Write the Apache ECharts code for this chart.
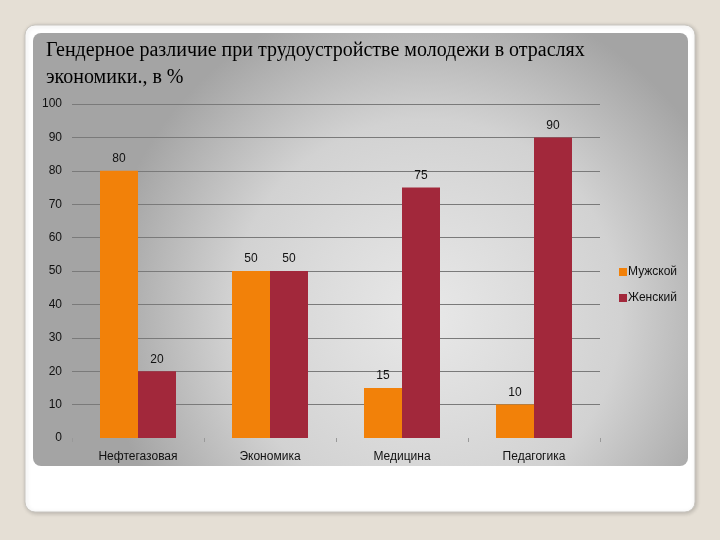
<!DOCTYPE html>
<html><head><meta charset="utf-8">
<script src="https://cdn.jsdelivr.net/npm/echarts@6/dist/echarts.min.js"></script>
<style>html,body{margin:0;padding:0;background:#e5dfd5;}#c{width:720px;height:540px;}</style>
</head><body><div id="c"></div>
<script>
const categories = ['Нефтегазовая', 'Экономика', 'Медицина', 'Педагогика'];
const male = [80, 50, 15, 10];
const female = [20, 50, 75, 90];
const seriesNames = ['Мужской', 'Женский'];
const titleLines = ['Гендерное различие при трудоустройстве молодежи в отраслях', 'экономики., в %'];

const chart = echarts.init(document.getElementById('c'));
const FONT = 'Liberation Sans';
const lbl = {show: true, position: 'top', color: '#111', fontSize: 12, fontFamily: FONT, distance: 6};
chart.setOption({
  backgroundColor: '#e5dfd5',
  animation: false,
  graphic: [
    {type: 'rect', z: -10, shape: {x: 25, y: 25, width: 670, height: 487, r: 10},
      style: {fill: '#ffffff', stroke: '#c9c6c0', lineWidth: 1, shadowBlur: 4, shadowColor: 'rgba(0,0,0,0.2)', shadowOffsetX: 1, shadowOffsetY: 1}},
    {type: 'rect', z: -9, shape: {x: 33, y: 33, width: 655, height: 433, r: 8},
      style: {fill: {type: 'radial', x: 0.6, y: 0.65, r: 0.75, colorStops: [
        {offset: 0, color: '#e8e8e8'}, {offset: 0.6, color: '#d2d2d2'}, {offset: 1, color: '#a4a4a4'}]}}},
    {type: 'text', left: 46, top: 37, style: {text: titleLines.join('\n'), fill: '#000', fontSize: 20, fontFamily: 'Liberation Serif', lineHeight: 27}}
  ],
  legend: {
    orient: 'vertical', left: 614, top: 261, itemWidth: 8, itemHeight: 8, itemGap: 14, icon: 'rect',
    textStyle: {fontSize: 12, color: '#111', fontFamily: FONT, padding: [0, 0, 0, -4]},
    data: seriesNames
  },
  grid: {left: 72, right: 120, top: 104, bottom: 102},
  xAxis: {
    type: 'category', data: categories,
    axisLine: {show: false},
    axisTick: {show: true, length: 4, lineStyle: {color: '#999'}},
    axisLabel: {color: '#111', fontSize: 12, fontFamily: FONT, margin: 13}
  },
  yAxis: {
    type: 'value', min: 0, max: 100, interval: 10,
    axisLine: {show: false}, axisTick: {show: false},
    axisLabel: {color: '#111', fontSize: 12, fontFamily: FONT, margin: 10},
    splitLine: {showMinLine: false, lineStyle: {color: '#7a7a7a', width: 1}}
  },
  series: [
    {name: seriesNames[0], type: 'bar', data: male, barWidth: 38, barGap: '0%', itemStyle: {color: '#f28109'}, label: lbl},
    {name: seriesNames[1], type: 'bar', data: female, barWidth: 38, barGap: '0%', itemStyle: {color: '#a2283b'}, label: lbl}
  ]
});
</script></body></html>
